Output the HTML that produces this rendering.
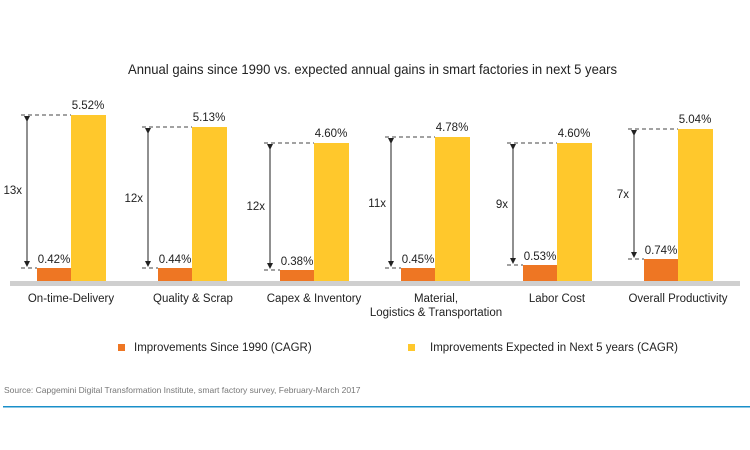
<!DOCTYPE html>
<html><head><style>
body{margin:0;background:#fff;}
svg{display:block;font-family:"Liberation Sans",sans-serif;}
</style></head><body>
<svg width="750" height="450" viewBox="0 0 750 450">
<defs>
<marker id="a" markerWidth="6" markerHeight="6" refX="3" refY="3" orient="auto"><path d="M0,0L6,3L0,6Z" fill="#222"/></marker>
</defs>
<text x="128" y="74" font-size="14" fill="#222" textLength="489" lengthAdjust="spacingAndGlyphs">Annual gains since 1990 vs. expected annual gains in smart factories in next 5 years</text>
<rect x="10" y="281" width="730" height="5" fill="#cfcfcf"/>

<g fill="#ee7623">
<rect x="37" y="268" width="34" height="13"/>
<rect x="158" y="268" width="34" height="13"/>
<rect x="280" y="270" width="34" height="11"/>
<rect x="401" y="268" width="34" height="13"/>
<rect x="523" y="265" width="34" height="16"/>
<rect x="644" y="259" width="34" height="22"/>
</g>
<g fill="#ffc82c">
<rect x="71" y="115" width="35" height="166"/>
<rect x="192" y="127" width="35" height="154"/>
<rect x="314" y="143" width="35" height="138"/>
<rect x="435" y="137" width="35" height="144"/>
<rect x="557" y="143" width="35" height="138"/>
<rect x="678" y="129" width="35" height="152"/>
</g>
<g stroke="#444" stroke-dasharray="4,3" fill="none">
<path d="M21 115H71M21 268H37"/>
<path d="M142 127H192M142 268H158"/>
<path d="M264 143H314M264 270H280"/>
<path d="M385 137H435M385 268H401"/>
<path d="M507 143H557M507 265H523"/>
<path d="M628 129H678M628 259H644"/>
</g>
<g stroke="#222">
<line x1="27" y1="119" x2="27" y2="264" marker-start="url(#a)" marker-end="url(#a)"/>
<line x1="148" y1="131" x2="148" y2="264" marker-start="url(#a)" marker-end="url(#a)"/>
<line x1="270" y1="147" x2="270" y2="266" marker-start="url(#a)" marker-end="url(#a)"/>
<line x1="391" y1="141" x2="391" y2="264" marker-start="url(#a)" marker-end="url(#a)"/>
<line x1="513" y1="147" x2="513" y2="261" marker-start="url(#a)" marker-end="url(#a)"/>
<line x1="634" y1="133" x2="634" y2="255" marker-start="url(#a)" marker-end="url(#a)"/>
</g>
<g font-size="11.5" fill="#222" text-anchor="end">
<text x="22" y="194">13x</text>
<text x="143" y="202">12x</text>
<text x="265" y="210">12x</text>
<text x="386" y="207">11x</text>
<text x="508" y="208">9x</text>
<text x="629" y="198">7x</text>
</g>
<g font-size="11.5" fill="#222" text-anchor="middle">
<text x="54" y="263">0.42%</text>
<text x="175" y="263">0.44%</text>
<text x="297" y="265">0.38%</text>
<text x="418" y="263">0.45%</text>
<text x="540" y="260">0.53%</text>
<text x="661" y="254">0.74%</text>
<text x="88" y="109">5.52%</text>
<text x="209" y="121">5.13%</text>
<text x="331" y="137">4.60%</text>
<text x="452" y="131">4.78%</text>
<text x="574" y="137">4.60%</text>
<text x="695" y="123">5.04%</text>
</g>
<g font-size="11.5" fill="#222" text-anchor="middle">
<text x="71" y="302">On-time-Delivery</text>
<text x="193" y="302">Quality &amp; Scrap</text>
<text x="314" y="302">Capex &amp; Inventory</text>
<text x="436" y="302">Material,</text>
<text x="436" y="316">Logistics &amp; Transportation</text>
<text x="557" y="302">Labor Cost</text>
<text x="678" y="302">Overall Productivity</text>
</g>
<rect x="118" y="344" width="7" height="7" fill="#ee7623"/>
<text x="134" y="351" font-size="11.5" fill="#222">Improvements Since 1990 (CAGR)</text>
<rect x="408" y="344" width="7" height="7" fill="#ffc82c"/>
<text x="430" y="351" font-size="11.5" fill="#222">Improvements Expected in Next 5 years (CAGR)</text>
<text x="4" y="393" font-size="8.5" fill="#777">Source: Capgemini Digital Transformation Institute, smart factory survey, February-March 2017</text>
<rect x="3" y="406" width="747" height="1.5" fill="#1a8fc9"/>
</svg>
</body></html>
